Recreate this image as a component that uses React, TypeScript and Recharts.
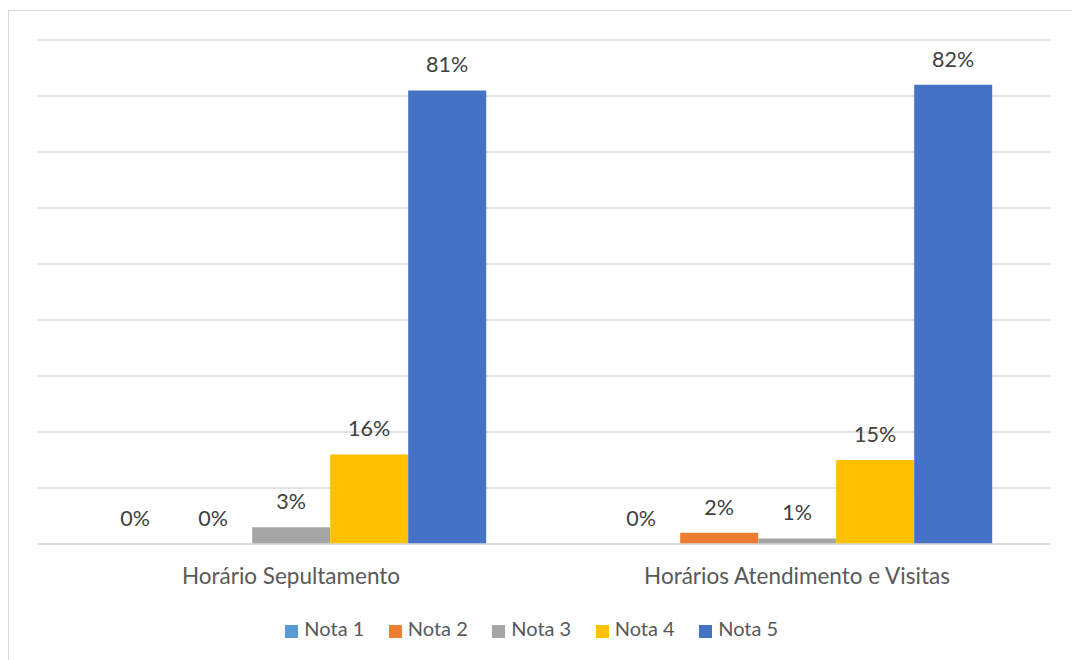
import React from "react";
import { BarChart, Bar, XAxis, YAxis, CartesianGrid, Legend, LabelList } from "recharts";

// categories and percentage of answers per grade
const categories = ["Horário Sepultamento", "Horários Atendimento e Visitas"];
const nota1 = [0, 0];
const nota2 = [0, 2];
const nota3 = [3, 1];
const nota4 = [16, 15];
const nota5 = [81, 82];
const yTicks = [0, 10, 20, 30, 40, 50, 60, 70, 80, 90];

const series = [
  { key: "nota1", name: "Nota 1", values: nota1, color: "#5B9BD5" },
  { key: "nota2", name: "Nota 2", values: nota2, color: "#ED7D31" },
  { key: "nota3", name: "Nota 3", values: nota3, color: "#A5A5A5" },
  { key: "nota4", name: "Nota 4", values: nota4, color: "#FFC000" },
  { key: "nota5", name: "Nota 5", values: nota5, color: "#4472C4" },
];

const data = categories.map((name, i) => {
  const row: Record<string, string | number> = { name };
  series.forEach((s) => {
    row[s.key] = s.values[i];
  });
  return row;
});

const FONT = "Lato, 'Noto Sans', sans-serif";

export default function App() {
  return (
    <div
      style={{
        position: "fixed",
        left: 0,
        top: 0,
        width: 1072,
        height: 660,
        overflow: "hidden",
        background: "#fff",
        fontFamily: FONT,
      }}
    >
      {/* chart area frame */}
      <div
        style={{
          position: "absolute",
          left: 8,
          top: 10,
          width: 1100,
          height: 700,
          border: "1px solid #d9d9d9",
        }}
      />
      <div style={{ position: "absolute", left: 0, top: 0 }}>
        <BarChart
          width={1072}
          height={660}
          data={data}
          margin={{ top: 40, right: 22, bottom: 20, left: 38 }}
          barCategoryGap="11.5%"
          barGap={0}
        >
          <CartesianGrid vertical={false} stroke="#d9d9d9" strokeWidth={1.3} />
          <YAxis hide domain={[0, 90]} ticks={yTicks} />
          <XAxis
            dataKey="name"
            axisLine={{ stroke: "#d9d9d9", strokeWidth: 1.3 }}
            tickLine={false}
            tickMargin={18}
            height={72}
            tick={{ fill: "#595959", fontSize: 22.5, fontFamily: FONT }}
          />
          <Legend
            verticalAlign="bottom"
            iconType="square"
            iconSize={13}
            formatter={(value) => (
              <span style={{ color: "#595959", fontSize: 20, marginLeft: 2, marginRight: 14.5 }}>{value}</span>
            )}
          />
          {series.map((s) => (
            <Bar
              key={s.key}
              dataKey={s.key}
              name={s.name}
              fill={s.color}
              minPointSize={0.01}
              isAnimationActive={false}
            >
              <LabelList
                dataKey={s.key}
                position="top"
                offset={18}
                fill="#404040"
                fontSize={21.5}
                fontFamily={FONT}
                formatter={(v: number) => `${v}%`}
              />
            </Bar>
          ))}
        </BarChart>
      </div>
    </div>
  );
}
